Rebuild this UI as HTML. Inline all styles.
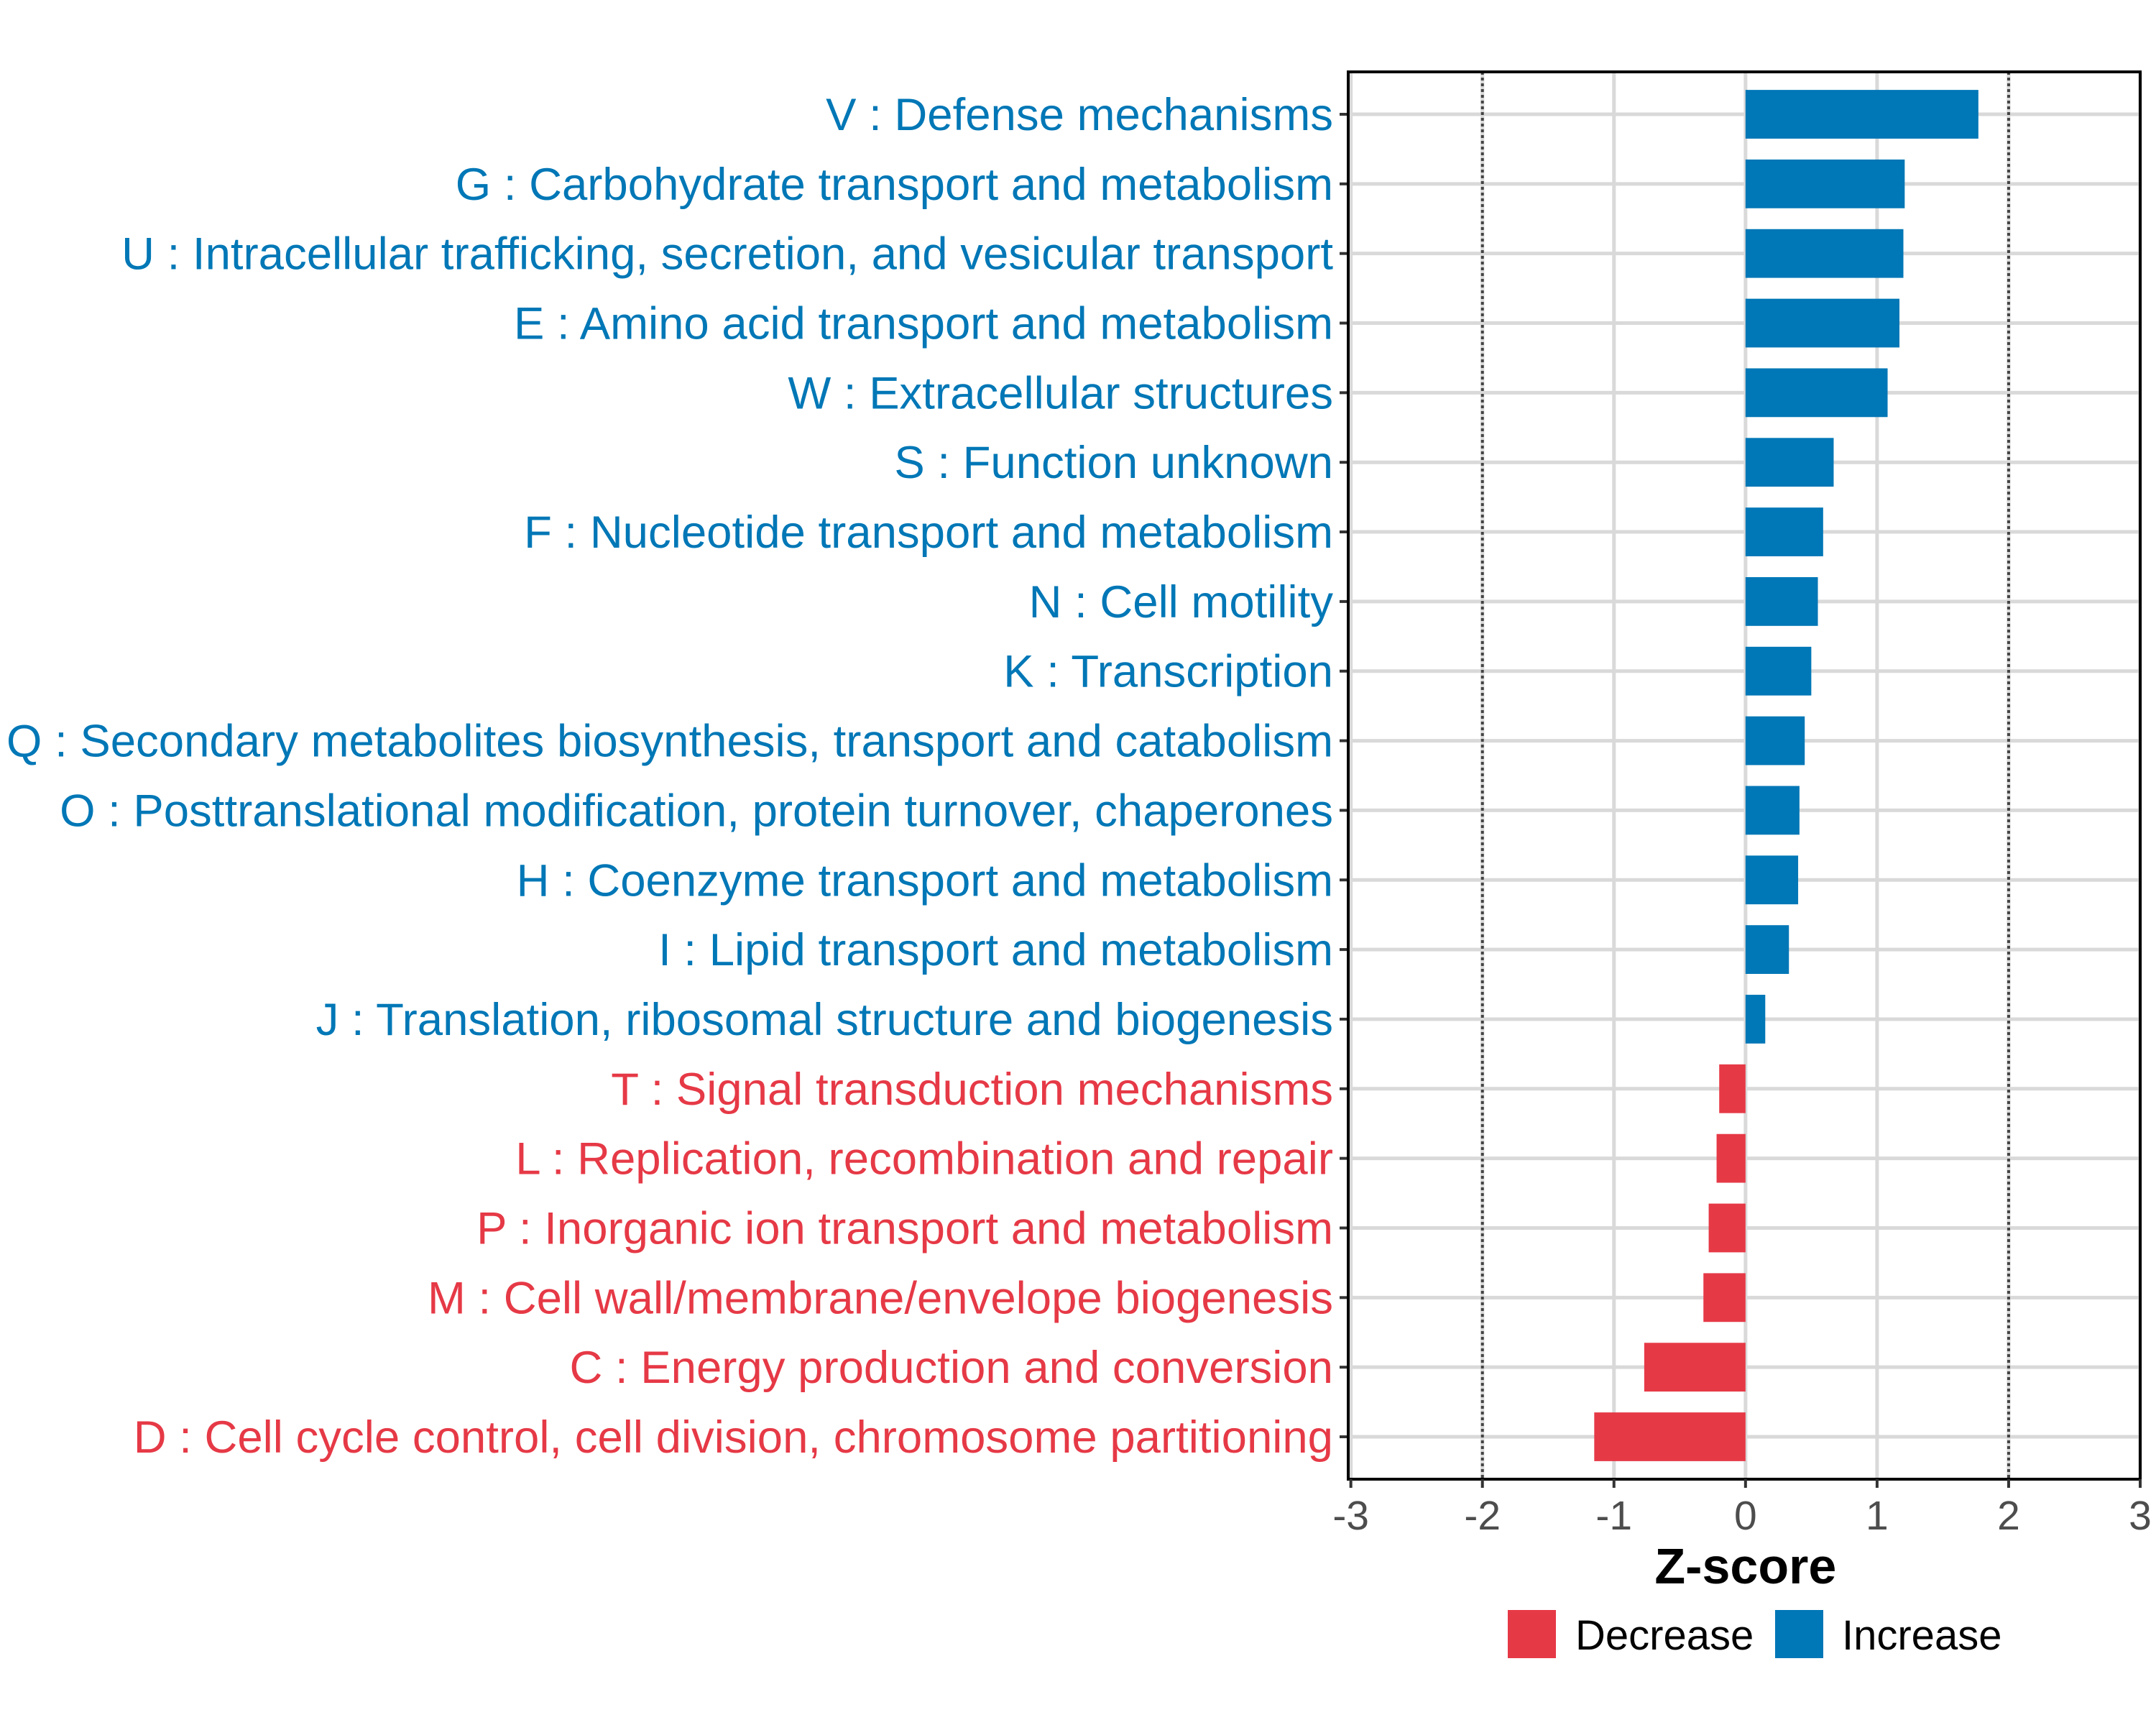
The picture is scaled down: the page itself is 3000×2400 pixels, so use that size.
<!DOCTYPE html>
<html><head><meta charset="utf-8"><style>
html,body{margin:0;padding:0;background:#fff;}
svg{display:block;font-family:"Liberation Sans",sans-serif;}
</style></head><body>
<svg id="chart" width="3000" height="2400" viewBox="0 0 3000 2400" xmlns="http://www.w3.org/2000/svg">
<rect x="0" y="0" width="3000" height="2400" fill="#fff"/>
<g id="grid"></g><g id="bars"></g><g id="axes"></g>
</svg>
<script>
const categories = ["V : Defense mechanisms","G : Carbohydrate transport and metabolism","U : Intracellular trafficking, secretion, and vesicular transport","E : Amino acid transport and metabolism","W : Extracellular structures","S : Function unknown","F : Nucleotide transport and metabolism","N : Cell motility","K : Transcription","Q : Secondary metabolites biosynthesis, transport and catabolism","O : Posttranslational modification, protein turnover, chaperones","H : Coenzyme transport and metabolism","I : Lipid transport and metabolism","J : Translation, ribosomal structure and biogenesis","T : Signal transduction mechanisms","L : Replication, recombination and repair","P : Inorganic ion transport and metabolism","M : Cell wall/membrane/envelope biogenesis","C : Energy production and conversion","D : Cell cycle control, cell division, chromosome partitioning"];
const zscores = [1.77,1.21,1.20,1.17,1.08,0.67,0.59,0.55,0.50,0.45,0.41,0.40,0.33,0.15,-0.20,-0.22,-0.28,-0.32,-0.77,-1.15];
const xTicks = [-3,-2,-1,0,1,2,3];
const thresholds = [-2,2];

const NS="http://www.w3.org/2000/svg";
const L=1876,R=2978,T=100,B=2058;
const xmin=-3.02,xmax=3.0;
const x=v=>L+(v-xmin)/(xmax-xmin)*(R-L);
const rowTop=159,rowBot=1999;
const y=i=>rowTop+i*(rowBot-rowTop)/(categories.length-1);
const step=(rowBot-rowTop)/(categories.length-1);
const BLUE="#0077B6",RED="#E63946";
function mk(tag,attrs,parent){const e=document.createElementNS(NS,tag);for(const k in attrs)e.setAttribute(k,attrs[k]);parent.appendChild(e);return e;}
const grid=document.getElementById('grid'),bars=document.getElementById('bars'),axes=document.getElementById('axes');
mk('rect',{x:L,y:T,width:R-L,height:B-T,fill:'#fff'},grid);
xTicks.forEach(t=>{const l=mk('line',{x1:x(t),x2:x(t),y1:T,y2:B,stroke:'#d9d9d9','stroke-width':5},grid);

});
categories.forEach((c,i)=>{const l=mk('line',{x1:L,x2:R,y1:y(i),y2:y(i),stroke:'#d9d9d9','stroke-width':5},grid);

});
thresholds.forEach(t=>{const l=mk('line',{x1:x(t),x2:x(t),y1:T,y2:B,stroke:'#444','stroke-width':4,'stroke-dasharray':'4 4'},grid);

});
const bh=step*0.7;
zscores.forEach((v,i)=>{const x0=x(Math.min(0,v)),w=Math.abs(x(v)-x(0));
const r=mk('rect',{x:x0,y:y(i)-bh/2,width:w,height:bh,fill:v>=0?BLUE:RED},bars);


const tk=mk('line',{x1:L-12,x2:L,y1:y(i),y2:y(i),stroke:'#333','stroke-width':4},axes);


const tx=mk('text',{x:1855,y:y(i)+22,'text-anchor':'end','font-size':63.5,fill:v>=0?BLUE:RED},axes);
tx.textContent=categories[i];

});
const border=mk('rect',{x:L,y:T,width:R-L,height:B-T,fill:'none',stroke:'#000','stroke-width':4},axes);


xTicks.forEach(t=>{const l=mk('line',{x1:x(t),x2:x(t),y1:B,y2:B+12,stroke:'#333','stroke-width':4},axes);


const tx=mk('text',{x:x(t),y:2128,'text-anchor':'middle','font-size':57,fill:'#4d4d4d'},axes);
tx.textContent=String(t);

});
const tt=mk('text',{x:x(0),y:2203,'text-anchor':'middle','font-size':70,'font-weight':'bold',fill:'#000'},axes);
tt.textContent='Z-score';


const lg=[["Decrease",RED,2098,2192],["Increase",BLUE,2470,2563]];
lg.forEach(d=>{const r=mk('rect',{x:d[2],y:2240,width:67,height:67,fill:d[1]},axes);


const tx=mk('text',{x:d[3],y:2295,'font-size':58,fill:'#000'},axes);
tx.textContent=d[0];

});
</script>
</body></html>
